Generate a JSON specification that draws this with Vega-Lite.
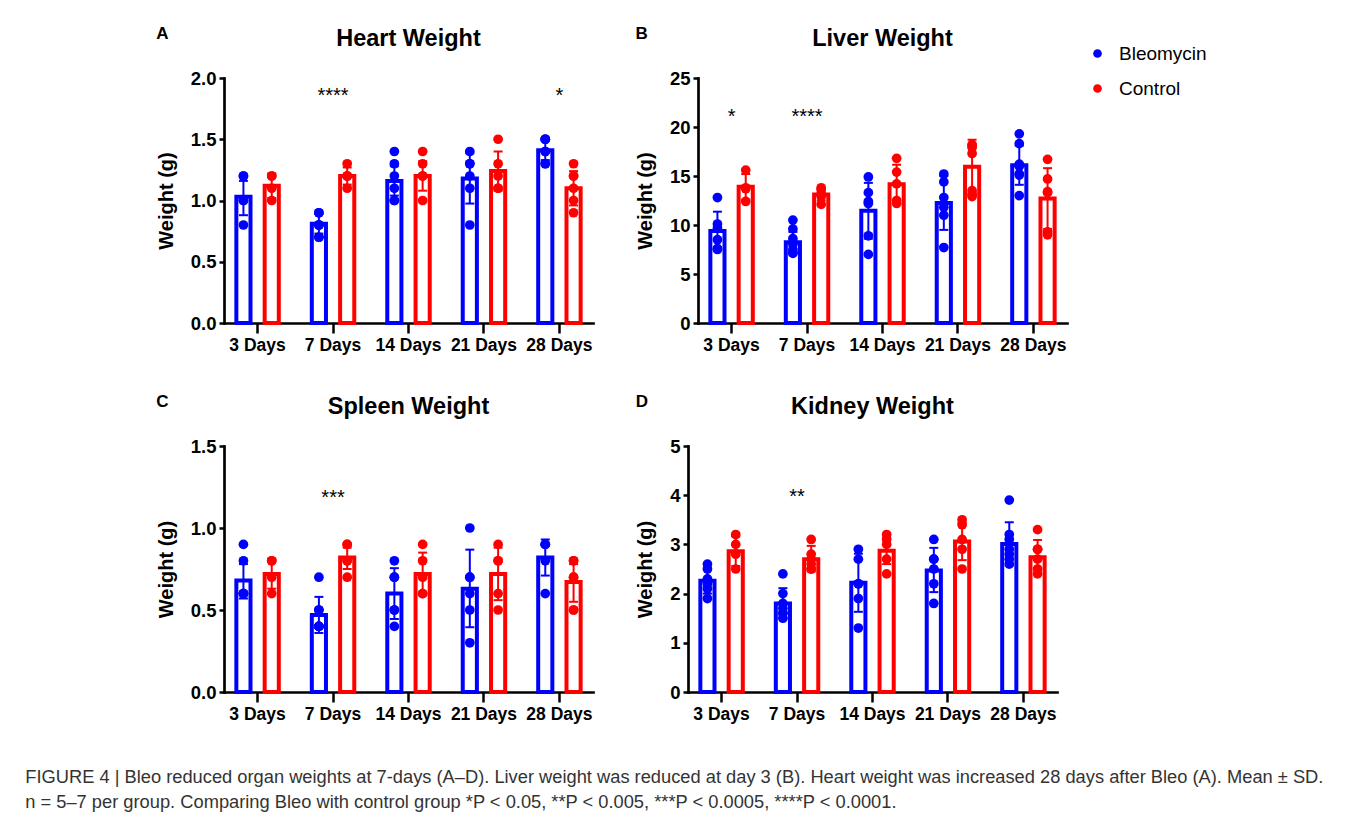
{
"$schema":"https://vega.github.io/schema/vega-lite/v6.json",
"background":"white",
"padding":{"left":25,"top":24,"right":5,"bottom":5},
"datasets":{
"summary":[
{"organ":"Heart","day":"3 Days","group":"Bleomycin","mean":1.03,"lo":0.88,"hi":1.16},
{"organ":"Heart","day":"3 Days","group":"Control","mean":1.12,"lo":1.02,"hi":1.22},
{"organ":"Heart","day":"7 Days","group":"Bleomycin","mean":0.81,"lo":0.73,"hi":0.89},
{"organ":"Heart","day":"7 Days","group":"Control","mean":1.2,"lo":1.13,"hi":1.27},
{"organ":"Heart","day":"14 Days","group":"Bleomycin","mean":1.16,"lo":1.04,"hi":1.28},
{"organ":"Heart","day":"14 Days","group":"Control","mean":1.2,"lo":1.08,"hi":1.32},
{"organ":"Heart","day":"21 Days","group":"Bleomycin","mean":1.18,"lo":0.975,"hi":1.385},
{"organ":"Heart","day":"21 Days","group":"Control","mean":1.24,"lo":1.08,"hi":1.4},
{"organ":"Heart","day":"28 Days","group":"Bleomycin","mean":1.41,"lo":1.33,"hi":1.49},
{"organ":"Heart","day":"28 Days","group":"Control","mean":1.1,"lo":0.96,"hi":1.24},
{"organ":"Liver","day":"3 Days","group":"Bleomycin","mean":9.4,"lo":7.45,"hi":11.36},
{"organ":"Liver","day":"3 Days","group":"Control","mean":13.9,"lo":12.6,"hi":15.2},
{"organ":"Liver","day":"7 Days","group":"Bleomycin","mean":8.25,"lo":7.2,"hi":9.3},
{"organ":"Liver","day":"7 Days","group":"Control","mean":13.1,"lo":12.5,"hi":13.7},
{"organ":"Liver","day":"14 Days","group":"Bleomycin","mean":11.45,"lo":8.6,"hi":14.3},
{"organ":"Liver","day":"14 Days","group":"Control","mean":14.15,"lo":12.15,"hi":16.15},
{"organ":"Liver","day":"21 Days","group":"Bleomycin","mean":12.25,"lo":9.5,"hi":15.0},
{"organ":"Liver","day":"21 Days","group":"Control","mean":15.95,"lo":13.2,"hi":18.7},
{"organ":"Liver","day":"28 Days","group":"Bleomycin","mean":16.1,"lo":14.1,"hi":18.1},
{"organ":"Liver","day":"28 Days","group":"Control","mean":12.7,"lo":9.6,"hi":15.8},
{"organ":"Spleen","day":"3 Days","group":"Bleomycin","mean":0.68,"lo":0.57,"hi":0.78},
{"organ":"Spleen","day":"3 Days","group":"Control","mean":0.72,"lo":0.63,"hi":0.81},
{"organ":"Spleen","day":"7 Days","group":"Bleomycin","mean":0.47,"lo":0.36,"hi":0.58},
{"organ":"Spleen","day":"7 Days","group":"Control","mean":0.82,"lo":0.75,"hi":0.88},
{"organ":"Spleen","day":"14 Days","group":"Bleomycin","mean":0.6,"lo":0.445,"hi":0.755},
{"organ":"Spleen","day":"14 Days","group":"Control","mean":0.72,"lo":0.59,"hi":0.85},
{"organ":"Spleen","day":"21 Days","group":"Bleomycin","mean":0.63,"lo":0.395,"hi":0.868},
{"organ":"Spleen","day":"21 Days","group":"Control","mean":0.72,"lo":0.56,"hi":0.88},
{"organ":"Spleen","day":"28 Days","group":"Bleomycin","mean":0.82,"lo":0.71,"hi":0.93},
{"organ":"Spleen","day":"28 Days","group":"Control","mean":0.67,"lo":0.55,"hi":0.78},
{"organ":"Kidney","day":"3 Days","group":"Bleomycin","mean":2.26,"lo":2.0,"hi":2.52},
{"organ":"Kidney","day":"3 Days","group":"Control","mean":2.86,"lo":2.56,"hi":3.16},
{"organ":"Kidney","day":"7 Days","group":"Bleomycin","mean":1.8,"lo":1.5,"hi":2.11},
{"organ":"Kidney","day":"7 Days","group":"Control","mean":2.7,"lo":2.45,"hi":2.97},
{"organ":"Kidney","day":"14 Days","group":"Bleomycin","mean":2.22,"lo":1.63,"hi":2.81},
{"organ":"Kidney","day":"14 Days","group":"Control","mean":2.87,"lo":2.6,"hi":3.14},
{"organ":"Kidney","day":"21 Days","group":"Bleomycin","mean":2.47,"lo":2.03,"hi":2.93},
{"organ":"Kidney","day":"21 Days","group":"Control","mean":3.06,"lo":2.68,"hi":3.44},
{"organ":"Kidney","day":"28 Days","group":"Bleomycin","mean":3.01,"lo":2.57,"hi":3.45},
{"organ":"Kidney","day":"28 Days","group":"Control","mean":2.74,"lo":2.4,"hi":3.09}
],
"points":[
{"organ":"Heart","day":"3 Days","group":"Bleomycin","value":1.2},{"organ":"Heart","day":"3 Days","group":"Bleomycin","value":1.2},{"organ":"Heart","day":"3 Days","group":"Bleomycin","value":1.0},{"organ":"Heart","day":"3 Days","group":"Bleomycin","value":1.0},{"organ":"Heart","day":"3 Days","group":"Bleomycin","value":0.8},
{"organ":"Heart","day":"3 Days","group":"Control","value":1.2},{"organ":"Heart","day":"3 Days","group":"Control","value":1.2},{"organ":"Heart","day":"3 Days","group":"Control","value":1.1},{"organ":"Heart","day":"3 Days","group":"Control","value":1.0},
{"organ":"Heart","day":"7 Days","group":"Bleomycin","value":0.9},{"organ":"Heart","day":"7 Days","group":"Bleomycin","value":0.9},{"organ":"Heart","day":"7 Days","group":"Bleomycin","value":0.8},{"organ":"Heart","day":"7 Days","group":"Bleomycin","value":0.8},{"organ":"Heart","day":"7 Days","group":"Bleomycin","value":0.8},{"organ":"Heart","day":"7 Days","group":"Bleomycin","value":0.7},{"organ":"Heart","day":"7 Days","group":"Bleomycin","value":0.7},
{"organ":"Heart","day":"7 Days","group":"Control","value":1.3},{"organ":"Heart","day":"7 Days","group":"Control","value":1.2},{"organ":"Heart","day":"7 Days","group":"Control","value":1.2},{"organ":"Heart","day":"7 Days","group":"Control","value":1.2},{"organ":"Heart","day":"7 Days","group":"Control","value":1.1},
{"organ":"Heart","day":"14 Days","group":"Bleomycin","value":1.4},{"organ":"Heart","day":"14 Days","group":"Bleomycin","value":1.3},{"organ":"Heart","day":"14 Days","group":"Bleomycin","value":1.2},{"organ":"Heart","day":"14 Days","group":"Bleomycin","value":1.1},{"organ":"Heart","day":"14 Days","group":"Bleomycin","value":1.0},{"organ":"Heart","day":"14 Days","group":"Bleomycin","value":1.0},
{"organ":"Heart","day":"14 Days","group":"Control","value":1.4},{"organ":"Heart","day":"14 Days","group":"Control","value":1.3},{"organ":"Heart","day":"14 Days","group":"Control","value":1.2},{"organ":"Heart","day":"14 Days","group":"Control","value":1.2},{"organ":"Heart","day":"14 Days","group":"Control","value":1.0},
{"organ":"Heart","day":"21 Days","group":"Bleomycin","value":1.4},{"organ":"Heart","day":"21 Days","group":"Bleomycin","value":1.3},{"organ":"Heart","day":"21 Days","group":"Bleomycin","value":1.3},{"organ":"Heart","day":"21 Days","group":"Bleomycin","value":1.2},{"organ":"Heart","day":"21 Days","group":"Bleomycin","value":1.1},{"organ":"Heart","day":"21 Days","group":"Bleomycin","value":0.8},
{"organ":"Heart","day":"21 Days","group":"Control","value":1.5},{"organ":"Heart","day":"21 Days","group":"Control","value":1.3},{"organ":"Heart","day":"21 Days","group":"Control","value":1.2},{"organ":"Heart","day":"21 Days","group":"Control","value":1.1},{"organ":"Heart","day":"21 Days","group":"Control","value":1.1},
{"organ":"Heart","day":"28 Days","group":"Bleomycin","value":1.5},{"organ":"Heart","day":"28 Days","group":"Bleomycin","value":1.5},{"organ":"Heart","day":"28 Days","group":"Bleomycin","value":1.5},{"organ":"Heart","day":"28 Days","group":"Bleomycin","value":1.4},{"organ":"Heart","day":"28 Days","group":"Bleomycin","value":1.4},{"organ":"Heart","day":"28 Days","group":"Bleomycin","value":1.3},{"organ":"Heart","day":"28 Days","group":"Bleomycin","value":1.3},
{"organ":"Heart","day":"28 Days","group":"Control","value":1.3},{"organ":"Heart","day":"28 Days","group":"Control","value":1.2},{"organ":"Heart","day":"28 Days","group":"Control","value":1.2},{"organ":"Heart","day":"28 Days","group":"Control","value":1.1},{"organ":"Heart","day":"28 Days","group":"Control","value":1.0},{"organ":"Heart","day":"28 Days","group":"Control","value":0.9},
{"organ":"Liver","day":"3 Days","group":"Bleomycin","value":12.8},{"organ":"Liver","day":"3 Days","group":"Bleomycin","value":10.1},{"organ":"Liver","day":"3 Days","group":"Bleomycin","value":9.7},{"organ":"Liver","day":"3 Days","group":"Bleomycin","value":8.5},{"organ":"Liver","day":"3 Days","group":"Bleomycin","value":7.6},{"organ":"Liver","day":"3 Days","group":"Bleomycin","value":7.5},
{"organ":"Liver","day":"3 Days","group":"Control","value":15.6},{"organ":"Liver","day":"3 Days","group":"Control","value":13.8},{"organ":"Liver","day":"3 Days","group":"Control","value":13.7},{"organ":"Liver","day":"3 Days","group":"Control","value":12.4},
{"organ":"Liver","day":"7 Days","group":"Bleomycin","value":10.5},{"organ":"Liver","day":"7 Days","group":"Bleomycin","value":9.6},{"organ":"Liver","day":"7 Days","group":"Bleomycin","value":8.6},{"organ":"Liver","day":"7 Days","group":"Bleomycin","value":8.0},{"organ":"Liver","day":"7 Days","group":"Bleomycin","value":7.5},{"organ":"Liver","day":"7 Days","group":"Bleomycin","value":7.2},{"organ":"Liver","day":"7 Days","group":"Bleomycin","value":7.1},
{"organ":"Liver","day":"7 Days","group":"Control","value":13.8},{"organ":"Liver","day":"7 Days","group":"Control","value":13.6},{"organ":"Liver","day":"7 Days","group":"Control","value":13.2},{"organ":"Liver","day":"7 Days","group":"Control","value":12.9},{"organ":"Liver","day":"7 Days","group":"Control","value":12.1},
{"organ":"Liver","day":"14 Days","group":"Bleomycin","value":14.9},{"organ":"Liver","day":"14 Days","group":"Bleomycin","value":13.3},{"organ":"Liver","day":"14 Days","group":"Bleomycin","value":12.4},{"organ":"Liver","day":"14 Days","group":"Bleomycin","value":12.2},{"organ":"Liver","day":"14 Days","group":"Bleomycin","value":8.9},{"organ":"Liver","day":"14 Days","group":"Bleomycin","value":7.0},
{"organ":"Liver","day":"14 Days","group":"Control","value":16.8},{"organ":"Liver","day":"14 Days","group":"Control","value":15.4},{"organ":"Liver","day":"14 Days","group":"Control","value":14.2},{"organ":"Liver","day":"14 Days","group":"Control","value":12.5},{"organ":"Liver","day":"14 Days","group":"Control","value":12.2},
{"organ":"Liver","day":"21 Days","group":"Bleomycin","value":15.2},{"organ":"Liver","day":"21 Days","group":"Bleomycin","value":14.4},{"organ":"Liver","day":"21 Days","group":"Bleomycin","value":12.8},{"organ":"Liver","day":"21 Days","group":"Bleomycin","value":11.8},{"organ":"Liver","day":"21 Days","group":"Bleomycin","value":11.0},{"organ":"Liver","day":"21 Days","group":"Bleomycin","value":7.7},
{"organ":"Liver","day":"21 Days","group":"Control","value":18.2},{"organ":"Liver","day":"21 Days","group":"Control","value":18.1},{"organ":"Liver","day":"21 Days","group":"Control","value":17.9},{"organ":"Liver","day":"21 Days","group":"Control","value":17.3},{"organ":"Liver","day":"21 Days","group":"Control","value":13.5},{"organ":"Liver","day":"21 Days","group":"Control","value":13.1},{"organ":"Liver","day":"21 Days","group":"Control","value":12.9},
{"organ":"Liver","day":"28 Days","group":"Bleomycin","value":19.3},{"organ":"Liver","day":"28 Days","group":"Bleomycin","value":18.3},{"organ":"Liver","day":"28 Days","group":"Bleomycin","value":16.2},{"organ":"Liver","day":"28 Days","group":"Bleomycin","value":16.0},{"organ":"Liver","day":"28 Days","group":"Bleomycin","value":15.2},{"organ":"Liver","day":"28 Days","group":"Bleomycin","value":15.1},{"organ":"Liver","day":"28 Days","group":"Bleomycin","value":13.0},
{"organ":"Liver","day":"28 Days","group":"Control","value":16.7},{"organ":"Liver","day":"28 Days","group":"Control","value":14.7},{"organ":"Liver","day":"28 Days","group":"Control","value":13.4},{"organ":"Liver","day":"28 Days","group":"Control","value":13.3},{"organ":"Liver","day":"28 Days","group":"Control","value":9.3},{"organ":"Liver","day":"28 Days","group":"Control","value":9.0},
{"organ":"Spleen","day":"3 Days","group":"Bleomycin","value":0.9},{"organ":"Spleen","day":"3 Days","group":"Bleomycin","value":0.8},{"organ":"Spleen","day":"3 Days","group":"Bleomycin","value":0.6},{"organ":"Spleen","day":"3 Days","group":"Bleomycin","value":0.6},{"organ":"Spleen","day":"3 Days","group":"Bleomycin","value":0.6},{"organ":"Spleen","day":"3 Days","group":"Bleomycin","value":0.6},
{"organ":"Spleen","day":"3 Days","group":"Control","value":0.8},{"organ":"Spleen","day":"3 Days","group":"Control","value":0.8},{"organ":"Spleen","day":"3 Days","group":"Control","value":0.7},{"organ":"Spleen","day":"3 Days","group":"Control","value":0.6},
{"organ":"Spleen","day":"7 Days","group":"Bleomycin","value":0.7},{"organ":"Spleen","day":"7 Days","group":"Bleomycin","value":0.5},{"organ":"Spleen","day":"7 Days","group":"Bleomycin","value":0.5},{"organ":"Spleen","day":"7 Days","group":"Bleomycin","value":0.4},{"organ":"Spleen","day":"7 Days","group":"Bleomycin","value":0.4},{"organ":"Spleen","day":"7 Days","group":"Bleomycin","value":0.4},{"organ":"Spleen","day":"7 Days","group":"Bleomycin","value":0.4},
{"organ":"Spleen","day":"7 Days","group":"Control","value":0.9},{"organ":"Spleen","day":"7 Days","group":"Control","value":0.9},{"organ":"Spleen","day":"7 Days","group":"Control","value":0.8},{"organ":"Spleen","day":"7 Days","group":"Control","value":0.8},{"organ":"Spleen","day":"7 Days","group":"Control","value":0.7},
{"organ":"Spleen","day":"14 Days","group":"Bleomycin","value":0.8},{"organ":"Spleen","day":"14 Days","group":"Bleomycin","value":0.7},{"organ":"Spleen","day":"14 Days","group":"Bleomycin","value":0.7},{"organ":"Spleen","day":"14 Days","group":"Bleomycin","value":0.5},{"organ":"Spleen","day":"14 Days","group":"Bleomycin","value":0.5},{"organ":"Spleen","day":"14 Days","group":"Bleomycin","value":0.4},
{"organ":"Spleen","day":"14 Days","group":"Control","value":0.9},{"organ":"Spleen","day":"14 Days","group":"Control","value":0.8},{"organ":"Spleen","day":"14 Days","group":"Control","value":0.7},{"organ":"Spleen","day":"14 Days","group":"Control","value":0.6},{"organ":"Spleen","day":"14 Days","group":"Control","value":0.6},
{"organ":"Spleen","day":"21 Days","group":"Bleomycin","value":1.0},{"organ":"Spleen","day":"21 Days","group":"Bleomycin","value":0.7},{"organ":"Spleen","day":"21 Days","group":"Bleomycin","value":0.7},{"organ":"Spleen","day":"21 Days","group":"Bleomycin","value":0.6},{"organ":"Spleen","day":"21 Days","group":"Bleomycin","value":0.5},{"organ":"Spleen","day":"21 Days","group":"Bleomycin","value":0.3},
{"organ":"Spleen","day":"21 Days","group":"Control","value":0.9},{"organ":"Spleen","day":"21 Days","group":"Control","value":0.8},{"organ":"Spleen","day":"21 Days","group":"Control","value":0.8},{"organ":"Spleen","day":"21 Days","group":"Control","value":0.6},{"organ":"Spleen","day":"21 Days","group":"Control","value":0.5},
{"organ":"Spleen","day":"28 Days","group":"Bleomycin","value":0.9},{"organ":"Spleen","day":"28 Days","group":"Bleomycin","value":0.9},{"organ":"Spleen","day":"28 Days","group":"Bleomycin","value":0.9},{"organ":"Spleen","day":"28 Days","group":"Bleomycin","value":0.8},{"organ":"Spleen","day":"28 Days","group":"Bleomycin","value":0.6},
{"organ":"Spleen","day":"28 Days","group":"Control","value":0.8},{"organ":"Spleen","day":"28 Days","group":"Control","value":0.8},{"organ":"Spleen","day":"28 Days","group":"Control","value":0.7},{"organ":"Spleen","day":"28 Days","group":"Control","value":0.7},{"organ":"Spleen","day":"28 Days","group":"Control","value":0.5},{"organ":"Spleen","day":"28 Days","group":"Control","value":0.5},
{"organ":"Kidney","day":"3 Days","group":"Bleomycin","value":2.6},{"organ":"Kidney","day":"3 Days","group":"Bleomycin","value":2.5},{"organ":"Kidney","day":"3 Days","group":"Bleomycin","value":2.3},{"organ":"Kidney","day":"3 Days","group":"Bleomycin","value":2.2},{"organ":"Kidney","day":"3 Days","group":"Bleomycin","value":2.1},{"organ":"Kidney","day":"3 Days","group":"Bleomycin","value":1.9},
{"organ":"Kidney","day":"3 Days","group":"Control","value":3.2},{"organ":"Kidney","day":"3 Days","group":"Control","value":3.0},{"organ":"Kidney","day":"3 Days","group":"Control","value":2.8},{"organ":"Kidney","day":"3 Days","group":"Control","value":2.5},
{"organ":"Kidney","day":"7 Days","group":"Bleomycin","value":2.4},{"organ":"Kidney","day":"7 Days","group":"Bleomycin","value":2.0},{"organ":"Kidney","day":"7 Days","group":"Bleomycin","value":1.8},{"organ":"Kidney","day":"7 Days","group":"Bleomycin","value":1.7},{"organ":"Kidney","day":"7 Days","group":"Bleomycin","value":1.6},{"organ":"Kidney","day":"7 Days","group":"Bleomycin","value":1.6},{"organ":"Kidney","day":"7 Days","group":"Bleomycin","value":1.5},
{"organ":"Kidney","day":"7 Days","group":"Control","value":3.1},{"organ":"Kidney","day":"7 Days","group":"Control","value":2.8},{"organ":"Kidney","day":"7 Days","group":"Control","value":2.7},{"organ":"Kidney","day":"7 Days","group":"Control","value":2.6},{"organ":"Kidney","day":"7 Days","group":"Control","value":2.5},{"organ":"Kidney","day":"7 Days","group":"Control","value":2.5},
{"organ":"Kidney","day":"14 Days","group":"Bleomycin","value":2.9},{"organ":"Kidney","day":"14 Days","group":"Bleomycin","value":2.7},{"organ":"Kidney","day":"14 Days","group":"Bleomycin","value":2.2},{"organ":"Kidney","day":"14 Days","group":"Bleomycin","value":2.2},{"organ":"Kidney","day":"14 Days","group":"Bleomycin","value":1.9},{"organ":"Kidney","day":"14 Days","group":"Bleomycin","value":1.3},
{"organ":"Kidney","day":"14 Days","group":"Control","value":3.2},{"organ":"Kidney","day":"14 Days","group":"Control","value":3.1},{"organ":"Kidney","day":"14 Days","group":"Control","value":3.0},{"organ":"Kidney","day":"14 Days","group":"Control","value":2.7},{"organ":"Kidney","day":"14 Days","group":"Control","value":2.4},
{"organ":"Kidney","day":"21 Days","group":"Bleomycin","value":3.1},{"organ":"Kidney","day":"21 Days","group":"Bleomycin","value":2.7},{"organ":"Kidney","day":"21 Days","group":"Bleomycin","value":2.7},{"organ":"Kidney","day":"21 Days","group":"Bleomycin","value":2.5},{"organ":"Kidney","day":"21 Days","group":"Bleomycin","value":2.2},{"organ":"Kidney","day":"21 Days","group":"Bleomycin","value":1.8},
{"organ":"Kidney","day":"21 Days","group":"Control","value":3.5},{"organ":"Kidney","day":"21 Days","group":"Control","value":3.4},{"organ":"Kidney","day":"21 Days","group":"Control","value":3.1},{"organ":"Kidney","day":"21 Days","group":"Control","value":2.9},{"organ":"Kidney","day":"21 Days","group":"Control","value":2.5},
{"organ":"Kidney","day":"28 Days","group":"Bleomycin","value":3.9},{"organ":"Kidney","day":"28 Days","group":"Bleomycin","value":3.2},{"organ":"Kidney","day":"28 Days","group":"Bleomycin","value":3.1},{"organ":"Kidney","day":"28 Days","group":"Bleomycin","value":2.9},{"organ":"Kidney","day":"28 Days","group":"Bleomycin","value":2.8},{"organ":"Kidney","day":"28 Days","group":"Bleomycin","value":2.7},{"organ":"Kidney","day":"28 Days","group":"Bleomycin","value":2.6},
{"organ":"Kidney","day":"28 Days","group":"Control","value":3.3},{"organ":"Kidney","day":"28 Days","group":"Control","value":2.9},{"organ":"Kidney","day":"28 Days","group":"Control","value":2.9},{"organ":"Kidney","day":"28 Days","group":"Control","value":2.7},{"organ":"Kidney","day":"28 Days","group":"Control","value":2.5},{"organ":"Kidney","day":"28 Days","group":"Control","value":2.4}
],
"stars":[
{"organ":"Heart","day":"7 Days","label":"****","y":1.806},
{"organ":"Heart","day":"28 Days","label":"*","y":1.806},
{"organ":"Liver","day":"3 Days","label":"*","y":20.38},
{"organ":"Liver","day":"7 Days","label":"****","y":20.38},
{"organ":"Spleen","day":"7 Days","label":"***","y":1.147},
{"organ":"Kidney","day":"7 Days","label":"**","y":3.843}
]
},
"title":{"text":["FIGURE 4 | Bleo reduced organ weights at 7-days (A–D). Liver weight was reduced at day 3 (B). Heart weight was increased 28 days after Bleo (A). Mean ± SD.","n = 5–7 per group. Comparing Bleo with control group *P < 0.05, **P < 0.005, ***P < 0.0005, ****P < 0.0001."],"orient":"bottom","anchor":"start","frame":"bounds","fontSize":18.3,"fontWeight":"normal","color":"#333333","lineHeight":25.5,"offset":46,"dx":-131,"font":"Liberation Sans"},
"spacing":38,
"vconcat":[
{"hconcat":[
{"title":{"text":"A","anchor":"start","frame":"bounds","fontSize":17,"fontWeight":"bold","offset":-16,"color":"black"},
"hconcat":[{
"width":369,"height":245,
"title":{"text":"Heart Weight"},
"encoding":{"x":{"field":"day","type":"nominal","sort":["3 Days","7 Days","14 Days","21 Days","28 Days"],"title":null,"scale":{"paddingInner":0.25,"paddingOuter":0.07},"axis":{"labelAngle":0}}},
"layer":[
{"data":{"name":"summary"},"transform":[{"filter":"datum.organ==='Heart'"}],"mark":{"type":"bar","fill":"white","strokeWidth":4},
"encoding":{"xOffset":{"field":"group","type":"nominal","scale":{"domain":["Bleomycin","Control"],"paddingInner":0.5,"paddingOuter":0.25}},
"y":{"field":"mean","type":"quantitative","title":"Weight (g)","scale":{"domain":[0,2],"nice":false},"axis":{"values":[0,0.5,1,1.5,2],"format":".1f"}},
"stroke":{"field":"group","type":"nominal","scale":{"domain":["Bleomycin","Control"],"range":["#0000ff","#ff0000"]},"legend":{"title":null}}}},
{"data":{"name":"summary"},"transform":[{"filter":"datum.organ==='Heart'"}],"mark":{"type":"rule","strokeWidth":2},
"encoding":{"xOffset":{"field":"group","type":"nominal","scale":{"domain":["Bleomycin","Control"],"paddingInner":0.5,"paddingOuter":0.25}},
"y":{"field":"lo","type":"quantitative","title":"Weight (g)","scale":{"domain":[0,2],"nice":false}},"y2":{"field":"hi"},
"stroke":{"field":"group","type":"nominal","scale":{"domain":["Bleomycin","Control"],"range":["#0000ff","#ff0000"]},"legend":{"title":null}}}},
{"data":{"name":"summary"},"transform":[{"filter":"datum.organ==='Heart'"}],"mark":{"type":"tick","thickness":2,"size":9,"opacity":1},
"encoding":{"xOffset":{"field":"group","type":"nominal","scale":{"domain":["Bleomycin","Control"],"paddingInner":0.5,"paddingOuter":0.25}},
"y":{"field":"lo","type":"quantitative","title":"Weight (g)","scale":{"domain":[0,2],"nice":false}},
"fill":{"field":"group","type":"nominal","scale":{"domain":["Bleomycin","Control"],"range":["#0000ff","#ff0000"]},"legend":{"title":null}}}},
{"data":{"name":"summary"},"transform":[{"filter":"datum.organ==='Heart'"}],"mark":{"type":"tick","thickness":2,"size":9,"opacity":1},
"encoding":{"xOffset":{"field":"group","type":"nominal","scale":{"domain":["Bleomycin","Control"],"paddingInner":0.5,"paddingOuter":0.25}},
"y":{"field":"hi","type":"quantitative","title":"Weight (g)","scale":{"domain":[0,2],"nice":false}},
"fill":{"field":"group","type":"nominal","scale":{"domain":["Bleomycin","Control"],"range":["#0000ff","#ff0000"]},"legend":{"title":null}}}},
{"data":{"name":"points"},"transform":[{"filter":"datum.organ==='Heart'"}],"mark":{"type":"circle","size":95,"opacity":1},
"encoding":{"xOffset":{"field":"group","type":"nominal","scale":{"domain":["Bleomycin","Control"],"paddingInner":0.5,"paddingOuter":0.25}},
"y":{"field":"value","type":"quantitative","title":"Weight (g)","scale":{"domain":[0,2],"nice":false}},
"fill":{"field":"group","type":"nominal","scale":{"domain":["Bleomycin","Control"],"range":["#0000ff","#ff0000"]},"legend":{"title":null}}}},
{"data":{"name":"stars"},"transform":[{"filter":"datum.organ==='Heart'"}],"mark":{"type":"text","fontSize":20,"baseline":"alphabetic","color":"black","font":"Liberation Sans"},
"encoding":{"y":{"field":"y","type":"quantitative","title":"Weight (g)","scale":{"domain":[0,2],"nice":false}},"text":{"field":"label"}}}
]}]},
{"title":{"text":"B","anchor":"start","frame":"bounds","fontSize":17,"fontWeight":"bold","offset":-16,"color":"black"},
"hconcat":[{
"width":369,"height":245,
"title":{"text":"Liver Weight"},
"encoding":{"x":{"field":"day","type":"nominal","sort":["3 Days","7 Days","14 Days","21 Days","28 Days"],"title":null,"scale":{"paddingInner":0.25,"paddingOuter":0.07},"axis":{"labelAngle":0}}},
"layer":[
{"data":{"name":"summary"},"transform":[{"filter":"datum.organ==='Liver'"}],"mark":{"type":"bar","fill":"white","strokeWidth":4},
"encoding":{"xOffset":{"field":"group","type":"nominal","scale":{"domain":["Bleomycin","Control"],"paddingInner":0.5,"paddingOuter":0.25}},
"y":{"field":"mean","type":"quantitative","title":"Weight (g)","scale":{"domain":[0,25],"nice":false},"axis":{"values":[0,5,10,15,20,25],"format":"d"}},
"stroke":{"field":"group","type":"nominal","scale":{"domain":["Bleomycin","Control"],"range":["#0000ff","#ff0000"]},"legend":{"title":null}}}},
{"data":{"name":"summary"},"transform":[{"filter":"datum.organ==='Liver'"}],"mark":{"type":"rule","strokeWidth":2},
"encoding":{"xOffset":{"field":"group","type":"nominal","scale":{"domain":["Bleomycin","Control"],"paddingInner":0.5,"paddingOuter":0.25}},
"y":{"field":"lo","type":"quantitative","title":"Weight (g)","scale":{"domain":[0,25],"nice":false}},"y2":{"field":"hi"},
"stroke":{"field":"group","type":"nominal","scale":{"domain":["Bleomycin","Control"],"range":["#0000ff","#ff0000"]},"legend":{"title":null}}}},
{"data":{"name":"summary"},"transform":[{"filter":"datum.organ==='Liver'"}],"mark":{"type":"tick","thickness":2,"size":9,"opacity":1},
"encoding":{"xOffset":{"field":"group","type":"nominal","scale":{"domain":["Bleomycin","Control"],"paddingInner":0.5,"paddingOuter":0.25}},
"y":{"field":"lo","type":"quantitative","title":"Weight (g)","scale":{"domain":[0,25],"nice":false}},
"fill":{"field":"group","type":"nominal","scale":{"domain":["Bleomycin","Control"],"range":["#0000ff","#ff0000"]},"legend":{"title":null}}}},
{"data":{"name":"summary"},"transform":[{"filter":"datum.organ==='Liver'"}],"mark":{"type":"tick","thickness":2,"size":9,"opacity":1},
"encoding":{"xOffset":{"field":"group","type":"nominal","scale":{"domain":["Bleomycin","Control"],"paddingInner":0.5,"paddingOuter":0.25}},
"y":{"field":"hi","type":"quantitative","title":"Weight (g)","scale":{"domain":[0,25],"nice":false}},
"fill":{"field":"group","type":"nominal","scale":{"domain":["Bleomycin","Control"],"range":["#0000ff","#ff0000"]},"legend":{"title":null}}}},
{"data":{"name":"points"},"transform":[{"filter":"datum.organ==='Liver'"}],"mark":{"type":"circle","size":95,"opacity":1},
"encoding":{"xOffset":{"field":"group","type":"nominal","scale":{"domain":["Bleomycin","Control"],"paddingInner":0.5,"paddingOuter":0.25}},
"y":{"field":"value","type":"quantitative","title":"Weight (g)","scale":{"domain":[0,25],"nice":false}},
"fill":{"field":"group","type":"nominal","scale":{"domain":["Bleomycin","Control"],"range":["#0000ff","#ff0000"]},"legend":{"title":null}}}},
{"data":{"name":"stars"},"transform":[{"filter":"datum.organ==='Liver'"}],"mark":{"type":"text","fontSize":20,"baseline":"alphabetic","color":"black","font":"Liberation Sans"},
"encoding":{"y":{"field":"y","type":"quantitative","title":"Weight (g)","scale":{"domain":[0,25],"nice":false}},"text":{"field":"label"}}}
]}]}
],"spacing":42},
{"hconcat":[
{"title":{"text":"C","anchor":"start","frame":"bounds","fontSize":17,"fontWeight":"bold","offset":-16,"color":"black"},
"hconcat":[{
"width":369,"height":246,
"title":{"text":"Spleen Weight"},
"encoding":{"x":{"field":"day","type":"nominal","sort":["3 Days","7 Days","14 Days","21 Days","28 Days"],"title":null,"scale":{"paddingInner":0.25,"paddingOuter":0.07},"axis":{"labelAngle":0}}},
"layer":[
{"data":{"name":"summary"},"transform":[{"filter":"datum.organ==='Spleen'"}],"mark":{"type":"bar","fill":"white","strokeWidth":4},
"encoding":{"xOffset":{"field":"group","type":"nominal","scale":{"domain":["Bleomycin","Control"],"paddingInner":0.5,"paddingOuter":0.25}},
"y":{"field":"mean","type":"quantitative","title":"Weight (g)","scale":{"domain":[0,1.5],"nice":false},"axis":{"values":[0,0.5,1,1.5],"format":".1f"}},
"stroke":{"field":"group","type":"nominal","scale":{"domain":["Bleomycin","Control"],"range":["#0000ff","#ff0000"]},"legend":{"title":null}}}},
{"data":{"name":"summary"},"transform":[{"filter":"datum.organ==='Spleen'"}],"mark":{"type":"rule","strokeWidth":2},
"encoding":{"xOffset":{"field":"group","type":"nominal","scale":{"domain":["Bleomycin","Control"],"paddingInner":0.5,"paddingOuter":0.25}},
"y":{"field":"lo","type":"quantitative","title":"Weight (g)","scale":{"domain":[0,1.5],"nice":false}},"y2":{"field":"hi"},
"stroke":{"field":"group","type":"nominal","scale":{"domain":["Bleomycin","Control"],"range":["#0000ff","#ff0000"]},"legend":{"title":null}}}},
{"data":{"name":"summary"},"transform":[{"filter":"datum.organ==='Spleen'"}],"mark":{"type":"tick","thickness":2,"size":9,"opacity":1},
"encoding":{"xOffset":{"field":"group","type":"nominal","scale":{"domain":["Bleomycin","Control"],"paddingInner":0.5,"paddingOuter":0.25}},
"y":{"field":"lo","type":"quantitative","title":"Weight (g)","scale":{"domain":[0,1.5],"nice":false}},
"fill":{"field":"group","type":"nominal","scale":{"domain":["Bleomycin","Control"],"range":["#0000ff","#ff0000"]},"legend":{"title":null}}}},
{"data":{"name":"summary"},"transform":[{"filter":"datum.organ==='Spleen'"}],"mark":{"type":"tick","thickness":2,"size":9,"opacity":1},
"encoding":{"xOffset":{"field":"group","type":"nominal","scale":{"domain":["Bleomycin","Control"],"paddingInner":0.5,"paddingOuter":0.25}},
"y":{"field":"hi","type":"quantitative","title":"Weight (g)","scale":{"domain":[0,1.5],"nice":false}},
"fill":{"field":"group","type":"nominal","scale":{"domain":["Bleomycin","Control"],"range":["#0000ff","#ff0000"]},"legend":{"title":null}}}},
{"data":{"name":"points"},"transform":[{"filter":"datum.organ==='Spleen'"}],"mark":{"type":"circle","size":95,"opacity":1},
"encoding":{"xOffset":{"field":"group","type":"nominal","scale":{"domain":["Bleomycin","Control"],"paddingInner":0.5,"paddingOuter":0.25}},
"y":{"field":"value","type":"quantitative","title":"Weight (g)","scale":{"domain":[0,1.5],"nice":false}},
"fill":{"field":"group","type":"nominal","scale":{"domain":["Bleomycin","Control"],"range":["#0000ff","#ff0000"]},"legend":{"title":null}}}},
{"data":{"name":"stars"},"transform":[{"filter":"datum.organ==='Spleen'"}],"mark":{"type":"text","fontSize":20,"baseline":"alphabetic","color":"black","font":"Liberation Sans"},
"encoding":{"y":{"field":"y","type":"quantitative","title":"Weight (g)","scale":{"domain":[0,1.5],"nice":false}},"text":{"field":"label"}}}
]}]},
{"title":{"text":"D","anchor":"start","frame":"bounds","fontSize":17,"fontWeight":"bold","offset":-16,"color":"black"},
"hconcat":[{
"width":369,"height":246,
"title":{"text":"Kidney Weight"},
"encoding":{"x":{"field":"day","type":"nominal","sort":["3 Days","7 Days","14 Days","21 Days","28 Days"],"title":null,"scale":{"paddingInner":0.25,"paddingOuter":0.07},"axis":{"labelAngle":0}}},
"layer":[
{"data":{"name":"summary"},"transform":[{"filter":"datum.organ==='Kidney'"}],"mark":{"type":"bar","fill":"white","strokeWidth":4},
"encoding":{"xOffset":{"field":"group","type":"nominal","scale":{"domain":["Bleomycin","Control"],"paddingInner":0.5,"paddingOuter":0.25}},
"y":{"field":"mean","type":"quantitative","title":"Weight (g)","scale":{"domain":[0,5],"nice":false},"axis":{"values":[0,1,2,3,4,5],"format":"d"}},
"stroke":{"field":"group","type":"nominal","scale":{"domain":["Bleomycin","Control"],"range":["#0000ff","#ff0000"]},"legend":{"title":null}}}},
{"data":{"name":"summary"},"transform":[{"filter":"datum.organ==='Kidney'"}],"mark":{"type":"rule","strokeWidth":2},
"encoding":{"xOffset":{"field":"group","type":"nominal","scale":{"domain":["Bleomycin","Control"],"paddingInner":0.5,"paddingOuter":0.25}},
"y":{"field":"lo","type":"quantitative","title":"Weight (g)","scale":{"domain":[0,5],"nice":false}},"y2":{"field":"hi"},
"stroke":{"field":"group","type":"nominal","scale":{"domain":["Bleomycin","Control"],"range":["#0000ff","#ff0000"]},"legend":{"title":null}}}},
{"data":{"name":"summary"},"transform":[{"filter":"datum.organ==='Kidney'"}],"mark":{"type":"tick","thickness":2,"size":9,"opacity":1},
"encoding":{"xOffset":{"field":"group","type":"nominal","scale":{"domain":["Bleomycin","Control"],"paddingInner":0.5,"paddingOuter":0.25}},
"y":{"field":"lo","type":"quantitative","title":"Weight (g)","scale":{"domain":[0,5],"nice":false}},
"fill":{"field":"group","type":"nominal","scale":{"domain":["Bleomycin","Control"],"range":["#0000ff","#ff0000"]},"legend":{"title":null}}}},
{"data":{"name":"summary"},"transform":[{"filter":"datum.organ==='Kidney'"}],"mark":{"type":"tick","thickness":2,"size":9,"opacity":1},
"encoding":{"xOffset":{"field":"group","type":"nominal","scale":{"domain":["Bleomycin","Control"],"paddingInner":0.5,"paddingOuter":0.25}},
"y":{"field":"hi","type":"quantitative","title":"Weight (g)","scale":{"domain":[0,5],"nice":false}},
"fill":{"field":"group","type":"nominal","scale":{"domain":["Bleomycin","Control"],"range":["#0000ff","#ff0000"]},"legend":{"title":null}}}},
{"data":{"name":"points"},"transform":[{"filter":"datum.organ==='Kidney'"}],"mark":{"type":"circle","size":95,"opacity":1},
"encoding":{"xOffset":{"field":"group","type":"nominal","scale":{"domain":["Bleomycin","Control"],"paddingInner":0.5,"paddingOuter":0.25}},
"y":{"field":"value","type":"quantitative","title":"Weight (g)","scale":{"domain":[0,5],"nice":false}},
"fill":{"field":"group","type":"nominal","scale":{"domain":["Bleomycin","Control"],"range":["#0000ff","#ff0000"]},"legend":{"title":null}}}},
{"data":{"name":"stars"},"transform":[{"filter":"datum.organ==='Kidney'"}],"mark":{"type":"text","fontSize":20,"baseline":"alphabetic","color":"black","font":"Liberation Sans"},
"encoding":{"y":{"field":"y","type":"quantitative","title":"Weight (g)","scale":{"domain":[0,5],"nice":false}},"text":{"field":"label"}}}
]}]}
],"spacing":42}
],
"config":{
"font":"Liberation Sans",
"view":{"stroke":null},
"title":{"font":"Liberation Sans","fontSize":23.5,"fontWeight":"bold","color":"black","offset":19},
"axis":{"grid":false,"domainColor":"black","domainWidth":2.7,"domainCap":"square","tickColor":"black","tickWidth":2.5,"labelColor":"black","labelFont":"Liberation Sans","labelFontWeight":"bold","titleFont":"Liberation Sans","titleFontWeight":"bold","titleFontSize":20,"titleColor":"black"},
"axisX":{"tickSize":10,"labelPadding":3,"labelFontSize":17.5,"bandPosition":0.5},
"axisY":{"tickSize":5,"labelPadding":3,"titlePadding":14,"labelFontSize":18.5},
"legend":{"orient":"none","legendX":864,"legendY":-34,"labelFontSize":19,"labelFont":"Liberation Sans","labelColor":"black","symbolSize":75,"symbolType":"circle","symbolOpacity":1,"symbolStrokeWidth":0,"rowPadding":15,"labelOffset":12,"padding":0}
}
}
